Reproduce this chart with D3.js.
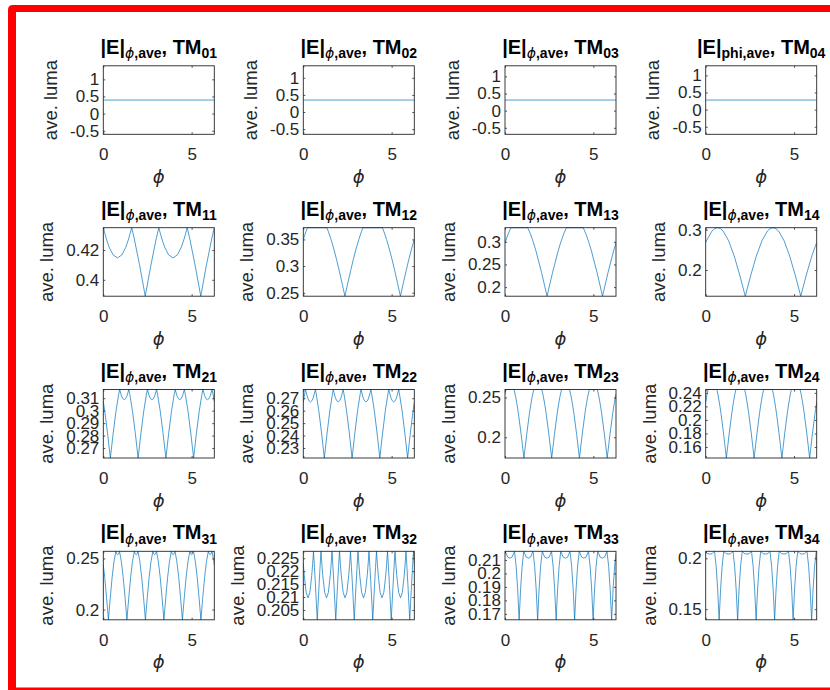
<!DOCTYPE html>
<html><head><meta charset="utf-8">
<script src="https://cdn.jsdelivr.net/npm/d3@7"></script>
<style>body{margin:0;background:#fff;} svg{display:block;}</style>
</head><body><svg id="c" width="830" height="690"></svg>
<script>
// ---------------- data (phi [rad], ave. luma) ----------------
const modes = ["01","02","03","04","11","12","13","14","21","22","23","24","31","32","33","34"];
const phiTicks = [0, 5];

const tm01 = [[0,0.395],[6.283,0.395]];
const tm02 = [[0,0.35],[6.283,0.35]];
const tm03 = [[0,0.31],[6.283,0.31]];
const tm04 = [[0,0.28],[6.283,0.28]];

const tm11 = [[0,.435],[.175,.4274],[.333,.4219],[.552,.4168],[.804,.4147],[1.055,.4168],[1.275,.4219],[1.432,.4274],[1.608,.435],[1.746,.4280],[2.060,.4095],[2.375,.389],
[2.689,.4095],[3.003,.4280],[3.142,.435],[3.317,.4274],[3.475,.4219],[3.694,.4168],[3.946,.4147],[4.197,.4168],[4.417,.4219],[4.574,.4274],[4.750,.435],[4.888,.4280],[5.202,.4095],[5.517,.389],
[5.831,.4095],[6.145,.4280],[6.283,.435]];

const tm12 = [[0,.350],[.157,.3653],[.236,.372],[1.335,.372],[1.414,.3653],[1.571,.350],[1.728,.332],[1.885,.312],[2.042,.290],[2.199,.267],[2.356,.2435],
[2.513,.267],[2.670,.290],[2.827,.312],[2.985,.332],[3.142,.350],[3.299,.3653],[3.377,.372],[4.477,.372],[4.555,.3653],[4.712,.350],[4.869,.332],[5.027,.312],[5.184,.290],[5.341,.267],[5.498,.2435],
[5.655,.267],[5.812,.290],[5.969,.312],[6.126,.332],[6.283,.350]];

const tm13 = [[0,.2975],[.182,.3174],[.336,.331],[1.285,.331],[1.439,.3174],[1.596,.300],[1.753,.2798],[2.067,.2325],[2.38,.180],
[2.694,.2325],[3.008,.2798],[3.165,.300],[3.322,.3174],[3.476,.331],[4.425,.331],[4.579,.3174],[4.736,.300],[4.893,.2798],[5.207,.2325],[5.52,.180],
[5.834,.2325],[6.148,.2798],[6.283,.2975]];

const tm14 = [[0,.2681],[.042,.2725],[.356,.2967],[.513,.3029],[.670,.305],[.827,.3029],[.984,.2967],[1.298,.2725],[1.612,.2349],[1.926,.1875],[2.24,.135],
[2.554,.1875],[2.868,.2349],[3.182,.2725],[3.496,.2967],[3.653,.3029],[3.81,.305],[3.967,.3029],[4.124,.2967],[4.438,.2725],[4.752,.2349],[5.066,.1875],[5.38,.135],
[5.694,.1875],[6.008,.2349],[6.283,.2684]];

const tm21 = [[0,.3074],[.086,.2992],[.243,.2815],[.400,.262],
[.557,.2815],[.714,.2992],[.871,.3132],[.928,.317],[1.028,.3119],[1.107,.3096],[1.185,.3088],[1.264,.3096],[1.342,.3119],[1.443,.317],[1.500,.3132],[1.657,.2992],[1.814,.2815],[1.971,.262],
[2.128,.2815],[2.285,.2992],[2.442,.3132],[2.499,.317],[2.599,.3119],[2.678,.3096],[2.756,.3088],[2.835,.3096],[2.913,.3119],[3.014,.317],[3.071,.3132],[3.228,.2992],[3.385,.2815],[3.542,.262],
[3.699,.2815],[3.856,.2992],[4.013,.3132],[4.070,.317],[4.170,.3119],[4.249,.3096],[4.327,.3088],[4.406,.3096],[4.484,.3119],[4.585,.317],[4.642,.3132],[4.799,.2992],[4.956,.2815],[5.112,.262],
[5.269,.2815],[5.426,.2992],[5.583,.3132],[5.640,.317],[5.740,.3119],[5.819,.3096],[5.897,.3088],[5.976,.3096],[6.054,.3119],[6.155,.317],[6.212,.3132],[6.283,.3074]];

const tm22 = [[0,.2668],[.090,.2745],[.123,.277],[.247,.2702],[.326,.2679],[.404,.2670],[.483,.2679],[.561,.2702],[.686,.277],[.719,.2745],[.876,.2602],[1.033,.2421],[1.190,.222],
[1.347,.2421],[1.504,.2602],[1.661,.2745],[1.694,.277],[1.818,.2702],[1.897,.2679],[1.975,.2670],[2.054,.2679],[2.132,.2702],[2.257,.277],[2.290,.2745],[2.447,.2602],[2.604,.2421],[2.761,.222],
[2.918,.2421],[3.075,.2602],[3.232,.2745],[3.265,.277],[3.389,.2702],[3.468,.2679],[3.546,.2670],[3.625,.2679],[3.703,.2702],[3.828,.277],[3.861,.2745],[4.018,.2602],[4.175,.2421],[4.332,.222],
[4.489,.2421],[4.646,.2602],[4.803,.2745],[4.836,.277],[4.960,.2702],[5.039,.2679],[5.117,.2670],[5.196,.2679],[5.274,.2702],[5.399,.277],[5.432,.2745],[5.589,.2602],[5.746,.2421],[5.903,.222],
[6.060,.2421],[6.217,.2602],[6.283,.2667]];

const tm23 = [[0,.2543],[.060,.260],[.511,.260],[.600,.2513],[.678,.2416],[.757,.2302],[.914,.2035],[1.071,.174],
[1.228,.2035],[1.385,.2302],[1.464,.2416],[1.542,.2513],[1.631,.260],[2.082,.260],[2.171,.2513],[2.249,.2416],[2.328,.2302],[2.485,.2035],[2.642,.174],
[2.799,.2035],[2.956,.2302],[3.035,.2416],[3.113,.2513],[3.202,.260],[3.653,.260],[3.742,.2513],[3.820,.2416],[3.899,.2302],[4.056,.2035],[4.213,.174],
[4.370,.2035],[4.527,.2302],[4.606,.2416],[4.684,.2513],[4.773,.260],[5.224,.260],[5.313,.2513],[5.391,.2416],[5.470,.2302],[5.627,.2035],[5.784,.174],
[5.941,.2035],[6.098,.2302],[6.177,.2416],[6.255,.2513],[6.283,.2543]];

const tm24 = [[0,.2264],[.070,.2368],[.136,.245],[.633,.245],[.699,.2368],[.777,.2251],[.856,.2114],[1.013,.1793],[1.170,.1437],
[1.327,.1793],[1.484,.2114],[1.563,.2251],[1.641,.2368],[1.707,.245],[2.204,.245],[2.270,.2368],[2.348,.2251],[2.427,.2114],[2.584,.1793],[2.741,.1437],
[2.898,.1793],[3.055,.2114],[3.134,.2251],[3.212,.2368],[3.278,.245],[3.775,.245],[3.841,.2368],[3.919,.2251],[3.998,.2114],[4.155,.1793],[4.312,.1437],
[4.469,.1793],[4.626,.2114],[4.705,.2251],[4.783,.2368],[4.849,.245],[5.346,.245],[5.412,.2368],[5.490,.2251],[5.569,.2114],[5.726,.1793],[5.883,.1437],
[6.040,.1793],[6.197,.2114],[6.283,.2264]];

const tm31 = [[0,.2439],[.081,.2314],[.185,.2117],[.290,.190],
[.395,.2117],[.499,.2314],[.604,.2469],[.710,.257],[.761,.2545],[.814,.2537],[.866,.2545],[.917,.257],[1.023,.2469],[1.128,.2314],[1.232,.2117],[1.337,.190],
[1.442,.2117],[1.546,.2314],[1.651,.2469],[1.757,.257],[1.808,.2545],[1.861,.2537],[1.913,.2545],[1.964,.257],[2.070,.2469],[2.175,.2314],[2.279,.2117],[2.384,.190],
[2.489,.2117],[2.593,.2314],[2.698,.2469],[2.804,.257],[2.855,.2545],[2.908,.2537],[2.960,.2545],[3.011,.257],[3.117,.2469],[3.222,.2314],[3.326,.2117],[3.431,.190],
[3.536,.2117],[3.640,.2314],[3.745,.2469],[3.851,.257],[3.902,.2545],[3.955,.2537],[4.007,.2545],[4.058,.257],[4.164,.2469],[4.269,.2314],[4.373,.2117],[4.478,.190],
[4.583,.2117],[4.687,.2314],[4.792,.2469],[4.898,.257],[4.949,.2545],[5.002,.2537],[5.054,.2545],[5.105,.257],[5.211,.2469],[5.316,.2314],[5.420,.2117],[5.525,.190],
[5.630,.2117],[5.734,.2314],[5.839,.2469],[5.945,.257],[5.996,.2545],[6.049,.2537],[6.101,.2545],[6.152,.257],[6.258,.2469],[6.283,.2437]];

const tm32 = [[0,.2231],[.057,.2182],[.162,.2118],[.267,.2097],[.371,.2118],[.476,.2182],[.528,.2227],[.578,.2277],[.633,.2214],[.685,.2150],[.790,.2012],
[.895,.2150],[.947,.2214],[1.002,.2277],[1.052,.2227],[1.104,.2182],[1.209,.2118],[1.314,.2097],[1.418,.2118],[1.523,.2182],[1.575,.2227],[1.625,.2277],[1.680,.2214],[1.732,.2150],[1.837,.2012],
[1.942,.2150],[1.994,.2214],[2.049,.2277],[2.099,.2227],[2.151,.2182],[2.256,.2118],[2.361,.2097],[2.465,.2118],[2.570,.2182],[2.622,.2227],[2.672,.2277],[2.727,.2214],[2.779,.2150],[2.884,.2012],
[2.989,.2150],[3.041,.2214],[3.096,.2277],[3.146,.2227],[3.198,.2182],[3.303,.2118],[3.408,.2097],[3.512,.2118],[3.617,.2182],[3.669,.2227],[3.719,.2277],[3.774,.2214],[3.826,.2150],[3.931,.2012],
[4.036,.2150],[4.088,.2214],[4.143,.2277],[4.193,.2227],[4.245,.2182],[4.350,.2118],[4.455,.2097],[4.559,.2118],[4.664,.2182],[4.716,.2227],[4.766,.2277],[4.821,.2214],[4.873,.2150],[4.978,.2012],
[5.083,.2150],[5.135,.2214],[5.190,.2277],[5.240,.2227],[5.292,.2182],[5.397,.2118],[5.502,.2097],[5.606,.2118],[5.711,.2182],[5.763,.2227],[5.813,.2277],[5.868,.2214],[5.920,.2150],[6.025,.2012],
[6.130,.2150],[6.182,.2214],[6.237,.2277],[6.283,.2231]];

const tm33 = [[0,.2149],[.015,.2164],[.078,.2144],[.151,.2121],[.277,.2113],[.402,.2121],[.475,.2144],[.538,.2164],[.632,.2052],[.716,.1885],[.800,.1656],
[.884,.1885],[.968,.2052],[1.062,.2164],[1.125,.2144],[1.198,.2121],[1.324,.2113],[1.449,.2121],[1.522,.2144],[1.585,.2164],[1.679,.2052],[1.763,.1885],[1.847,.1656],
[1.931,.1885],[2.015,.2052],[2.109,.2164],[2.172,.2144],[2.245,.2121],[2.371,.2113],[2.496,.2121],[2.569,.2144],[2.632,.2164],[2.726,.2052],[2.810,.1885],[2.894,.1656],
[2.978,.1885],[3.062,.2052],[3.156,.2164],[3.219,.2144],[3.292,.2121],[3.418,.2113],[3.543,.2121],[3.616,.2144],[3.679,.2164],[3.773,.2052],[3.857,.1885],[3.941,.1656],
[4.025,.1885],[4.109,.2052],[4.203,.2164],[4.266,.2144],[4.339,.2121],[4.465,.2113],[4.590,.2121],[4.663,.2144],[4.726,.2164],[4.820,.2052],[4.904,.1885],[4.988,.1656],
[5.072,.1885],[5.156,.2052],[5.250,.2164],[5.313,.2144],[5.386,.2121],[5.512,.2113],[5.637,.2121],[5.710,.2144],[5.773,.2164],[5.867,.2052],[5.951,.1885],[6.035,.1656],
[6.119,.1885],[6.203,.2052],[6.283,.2149]];

const tm34 = [[0,.2066],[.038,.2059],[.115,.2045],[.237,.2042],[.362,.2045],[.435,.2059],[.498,.2069],[.592,.1921],[.676,.1698],[.760,.1395],
[.844,.1698],[.928,.1921],[1.022,.2069],[1.085,.2059],[1.158,.2045],[1.284,.2042],[1.409,.2045],[1.482,.2059],[1.545,.2069],[1.639,.1921],[1.723,.1698],[1.807,.1395],
[1.891,.1698],[1.975,.1921],[2.069,.2069],[2.132,.2059],[2.205,.2045],[2.331,.2042],[2.456,.2045],[2.529,.2059],[2.592,.2069],[2.686,.1921],[2.770,.1698],[2.854,.1395],
[2.938,.1698],[3.022,.1921],[3.116,.2069],[3.179,.2059],[3.252,.2045],[3.378,.2042],[3.503,.2045],[3.576,.2059],[3.639,.2069],[3.733,.1921],[3.817,.1698],[3.901,.1395],
[3.985,.1698],[4.069,.1921],[4.163,.2069],[4.226,.2059],[4.299,.2045],[4.425,.2042],[4.550,.2045],[4.623,.2059],[4.686,.2069],[4.780,.1921],[4.864,.1698],[4.948,.1395],
[5.032,.1698],[5.116,.1921],[5.210,.2069],[5.273,.2059],[5.346,.2045],[5.472,.2042],[5.597,.2045],[5.670,.2059],[5.733,.2069],[5.827,.1921],[5.911,.1698],[5.995,.1395],
[6.079,.1698],[6.163,.1921],[6.257,.2069],[6.283,.2066]];

// y tick values per panel
const ticks01 = [-0.5, 0, 0.5, 1];
const ticks11 = [0.4, 0.42];
const ticks12 = [0.25, 0.3, 0.35];
const ticks13 = [0.2, 0.25, 0.3];
const ticks14 = [0.2, 0.3];
const ticks21 = [0.27, 0.28, 0.29, 0.3, 0.31];
const ticks22 = [0.23, 0.24, 0.25, 0.26, 0.27];
const ticks23 = [0.2, 0.25];
const ticks24 = [0.16, 0.18, 0.2, 0.22, 0.24];
const ticks31 = [0.2, 0.25];
const ticks32 = [0.205, 0.21, 0.215, 0.22, 0.225];
const ticks33 = [0.17, 0.18, 0.19, 0.2, 0.21];
const ticks34 = [0.15, 0.2];

const series = [tm01,tm02,tm03,tm04,tm11,tm12,tm13,tm14,tm21,tm22,tm23,tm24,tm31,tm32,tm33,tm34];
const tickSets = [ticks01,ticks01,ticks01,ticks01,ticks11,ticks12,ticks13,ticks14,ticks21,ticks22,ticks23,ticks24,ticks31,ticks32,ticks33,ticks34];

// ---------------- drawing ----------------
const svg = d3.select("#c");
const FONT = "'Liberation Sans', Arial, Helvetica, sans-serif";
const GREEK = "'DejaVu Sans', sans-serif";
const AX = "#262626";

// red frame
svg.append("path")
  .attr("d","M8,690 L8,10 Q8,5 13,5 L830,5 L830,12 L16,12 L16,687.5 L830,687.5 L830,690 Z")
  .attr("fill","#ff0000");

const colLeft = [103.3, 303.3, 505, 705.7];
const rowTop = [65.8, 227.7, 389.5, 551.3];
const W = 111, H = 68.5;

series.forEach((data, i) => {
  const r = Math.floor(i/4), c = i % 4;
  const L = colLeft[c], T = rowTop[r];
  const g = svg.append("g");
  const ext = d3.extent(data, d => d[1]);
  const dom = ext[0] === ext[1] ? [ext[0]-1, ext[1]+1] : ext;
  const x = d3.scaleLinear().domain(d3.extent(data, d => d[0])).range([L, L+W]);
  const y = d3.scaleLinear().domain(dom).range([T+H, T]);

  // line
  const clipId = "clip"+i;
  svg.append("clipPath").attr("id", clipId).append("rect")
    .attr("x", L).attr("y", T-1).attr("width", W).attr("height", H+2);
  g.append("path").datum(data)
    .attr("d", d3.line().x(d => x(d[0])).y(d => y(d[1])))
    .attr("fill","none").attr("stroke","#0072BD").attr("stroke-width",0.7)
    .attr("clip-path","url(#"+clipId+")");

  const fmt = d => String(d);
  const styleAxis = (sel) => {
    sel.select(".domain").remove();
    sel.selectAll(".tick line").attr("stroke", AX).attr("stroke-width", 0.8);
    sel.selectAll("text").attr("fill", AX).attr("font-family", FONT).attr("font-size", 17);
  };
  const yl = g.append("g").attr("transform",`translate(${L},0)`)
    .call(d3.axisLeft(y).tickValues(tickSets[i]).tickSize(-2).tickPadding(4).tickFormat(fmt));
  styleAxis(yl);
  g.append("g").attr("transform",`translate(${L+W},0)`)
    .call(d3.axisRight(y).tickValues(tickSets[i]).tickSize(-2).tickFormat("")).call(styleAxis);
  const xb = g.append("g").attr("transform",`translate(0,${T+H})`)
    .call(d3.axisBottom(x).tickValues(phiTicks).tickSize(-2).tickPadding(14).tickFormat(fmt));
  styleAxis(xb);
  g.append("g").attr("transform",`translate(0,${T})`)
    .call(d3.axisTop(x).tickValues(phiTicks).tickSize(-2).tickFormat("")).call(styleAxis);

  // box
  g.append("rect").attr("x",L).attr("y",T).attr("width",W).attr("height",H)
    .attr("fill","none").attr("stroke",AX).attr("stroke-width",0.9);

  // y label
  let maxW = 0;
  yl.selectAll("text").each(function(){ maxW = Math.max(maxW, this.getComputedTextLength()); });
  const lx = L - 4 - maxW - 13;
  g.append("text").attr("transform",`translate(${lx},${T+H/2}) rotate(-90)`)
    .attr("text-anchor","middle").attr("font-family",FONT).attr("font-size",18.5)
    .attr("fill",AX).text("ave. luma");

  // x label
  g.append("text").attr("x", L+W/2).attr("y", T+H+48.5).attr("text-anchor","middle")
    .attr("font-family",GREEK).attr("font-style","italic").attr("font-size",18)
    .attr("fill",AX).text("\u03D5");

  // title
  const t = g.append("text").attr("x", L+W/2).attr("y", T-12).attr("text-anchor","middle")
    .attr("font-family",FONT).attr("font-weight","bold").attr("font-size",20).attr("fill","#000");
  t.append("tspan").text("|E|");
  const sub = t.append("tspan").attr("dy",4.5).attr("font-size",14);
  if (modes[i] === "04") {
    sub.text("phi,ave");
  } else {
    sub.append("tspan").attr("font-family",GREEK).attr("font-style","italic").attr("font-weight","normal").text("\u03D5");
    sub.append("tspan").text(",ave");
  }
  t.append("tspan").attr("dy",-4.5).attr("font-size",20).text(", TM");
  t.append("tspan").attr("dy",4.5).attr("font-size",14).text(modes[i]);
});
</script>
</body></html>
